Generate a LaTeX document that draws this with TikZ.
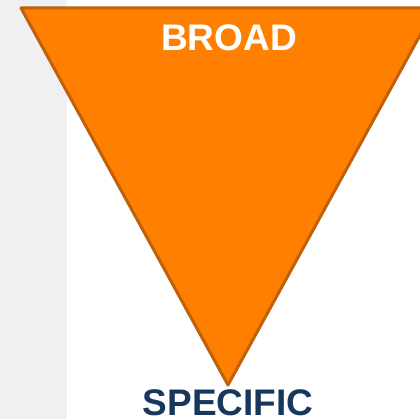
\documentclass[tikz,border=0pt]{standalone}
\usepackage{fontspec}
\setmainfont{Liberation Sans}
\usepackage{xcolor}
\usepackage{tikz}
\usetikzlibrary{positioning}

\definecolor{panelgrey}{HTML}{F0F0F3}
\definecolor{funnelorange}{HTML}{FF8000}
\definecolor{funneledge}{HTML}{C0600A}
\definecolor{specnavy}{HTML}{17375E}

\begin{document}
\begin{tikzpicture}[x=1pt, y=-1pt]
    \tikzstyle{funnel} = [fill=funnelorange, draw=funneledge, line width=3pt, line join=round];
    \tikzstyle{broadtext} = [text=white, font=\fontsize{37}{40}\selectfont\bfseries, inner sep=1pt];
    \tikzstyle{spectext} = [text=specnavy, font=\fontsize{37}{40}\selectfont\bfseries, inner sep=1pt];
    \useasboundingbox (0,0) rectangle (420,419);
    \clip (0,0) rectangle (420,419);
    \fill [panelgrey] (0,0) rectangle (67,419);
    \coordinate (tl) at (21,8);
    \coordinate (tr) at (435,8);
    \coordinate (apex) at (228,385);
    \draw [funnel] (tl) -- (tr) -- (apex) -- cycle;
    \node [broadtext] (broad) at (229,38) {BROAD};
    \node [spectext, below = 3pt of apex] (specific) {SPECIFIC};
\end{tikzpicture}
\end{document}
